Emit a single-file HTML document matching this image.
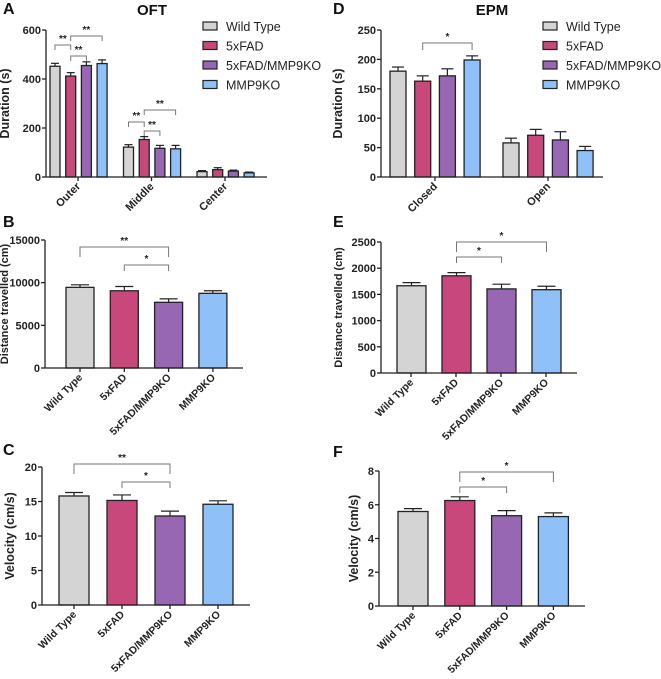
<!DOCTYPE html>
<html><head><meta charset="utf-8"><style>
body{margin:0;background:#fff;width:661px;height:679px;overflow:hidden}
svg{display:block;font-family:"Liberation Sans",Arial,sans-serif}
</style></head><body>
<svg id="fig" width="661" height="679" viewBox="0 0 661 679"></svg>
<script>
const groups=["Wild Type","5xFAD","5xFAD/MMP9KO","MMP9KO"];
const colors=["#d4d4d4","#c9487b","#9767b3","#8fc0f7"];
const catsA=["Outer","Middle","Center"];
const valsA=[[452,412,455,463],[122,153,117,115],[22,30,24,17]];
const errA=[[12,14,15,15],[10,12,12,14],[4,8,4,3]];
const ticksA=[0,200,400,600];
const catsD=["Closed","Open"];
const valsD=[[180,163,172,199],[58,71,63,45]];
const errD=[[7,9,12,7],[8,10,14,7]];
const ticksD=[0,50,100,150,200,250];
const valsB=[9450,9050,7700,8750];
const errB=[300,500,400,300];
const ticksB=[0,5000,10000,15000];
const valsC=[15.8,15.15,12.9,14.6];
const errC=[0.5,0.8,0.7,0.5];
const ticksC=[0,5,10,15,20];
const valsE=[1665,1855,1605,1590];
const errE=[60,60,90,65];
const ticksE=[0,500,1000,1500,2000,2500];
const valsF=[5.6,6.25,5.35,5.3];
const errF=[0.17,0.22,0.3,0.22];
const ticksF=[0,2,4,6,8];

const svg=document.getElementById('fig');
const NS="http://www.w3.org/2000/svg";
function el(tag,attrs,parent,text){const e=document.createElementNS(NS,tag);for(const k in attrs)e.setAttribute(k,attrs[k]);if(text!==undefined)e.textContent=text;(parent||svg).appendChild(e);return e;}

function panel(c){
  const g=el('g',{});
  
  
  const ymax=c.ticks[c.ticks.length-1];
  const ys=v=>c.y0-(v/ymax)*(c.y0-c.yTop);
  c.vals.forEach((row,gi)=>{
    row.forEach((v,si)=>{
      const x=c.xs(gi,si);
      const e=c.errs[gi][si];
      const eb=el('line',{x1:x+c.bw/2,x2:x+c.bw/2,y1:ys(v),y2:ys(v+e),stroke:'#222','stroke-width':1.2},g);
      
      
      const cap=el('line',{x1:x+c.bw/2-c.cap,x2:x+c.bw/2+c.cap,y1:ys(v+e),y2:ys(v+e),stroke:'#222','stroke-width':1.2},g);
      
      
      const r=el('rect',{x:x,y:ys(v),width:c.bw,height:c.y0-ys(v),fill:colors[si],stroke:'#222','stroke-width':1.3},g);
      
      
    });
  });
  const ya=el('line',{x1:c.ax,x2:c.ax,y1:c.yTop,y2:c.y0,stroke:'#222','stroke-width':1.3},g);
  
  
  const xa=el('line',{x1:c.ax,x2:c.axEnd,y1:c.y0,y2:c.y0,stroke:'#222','stroke-width':1.3},g);
  
  
  c.ticks.forEach(t=>{
    el('line',{x1:c.ax-4,x2:c.ax,y1:ys(t),y2:ys(t),stroke:'#222','stroke-width':1.3},g);
    const tl=el('text',{x:c.ax-5,y:ys(t)+4,'text-anchor':'end','font-size':11,'font-weight':'bold',fill:'#222'},g,t);
    
    
  });
  c.cats.forEach((cat,gi)=>{
    const tx=c.catX(gi);
    el('line',{x1:tx,x2:tx,y1:c.y0,y2:c.y0+4,stroke:'#222','stroke-width':1.3},g);
    const tl=el('text',{x:tx+3,y:c.y0+10,'text-anchor':'end','font-size':c.catFs,'font-weight':'bold',fill:'#222',transform:`rotate(-45 ${tx+3} ${c.y0+10})`},g,cat);
    
    
  });
  const yt=el('text',{x:c.ytX,y:(c.yTop+c.y0)/2,'text-anchor':'middle','font-size':c.ytFs,'font-weight':'bold',fill:'#222',transform:`rotate(-90 ${c.ytX} ${(c.yTop+c.y0)/2})`},g,c.ytitle);
  
  
  const pl=el('text',{x:c.letterX,y:c.letterY,'font-size':16,'font-weight':'bold',fill:'#111'},g,c.letter);
  
  
  if(c.title){
    const t=el('text',{x:c.titleX,y:15,'text-anchor':'middle','font-size':15,'font-weight':'bold',fill:'#111'},g,c.title);
    
    
  }
  (c.br||[]).forEach(b=>{
    const x1=c.xs(b[0],b[1])+c.bw/2, x2=c.xs(b[0],b[2])+c.bw/2;
    const p=el('path',{d:`M${x1} ${b[3]+b[5]}V${b[3]}H${x2}V${b[3]+b[5]}`,fill:'none',stroke:'#777','stroke-width':1},g);
    
    
    const s=el('text',{x:(x1+x2)/2,y:b[3]-3,'text-anchor':'middle','font-size':10,'font-weight':'bold',fill:'#222'},g,b[4]);
    
    
  });
  if(c.legX!==undefined){
    groups.forEach((n,i)=>{
      const y=26+i*19.5;
      const r=el('rect',{x:c.legX,y:y-4,width:14,height:8,fill:colors[i],stroke:'#222','stroke-width':1.2},g);
      
      
      const t=el('text',{x:c.legX+23,y:y+5,'font-size':12.5,fill:'#222'},g,n);
      
      
    });
  }
}

panel({name:'panel-a-oft',letter:'A',letterX:3,letterY:14,title:'OFT',titleX:152,ax:46,axEnd:267,y0:177,yTop:30,ticks:ticksA,
  vals:valsA,errs:errA,cats:catsA,bw:10,cap:4,xs:(g,s)=>50+g*73.5+s*15.7,catX:g=>50+g*73.5+28,catFs:11,
  ytitle:'Duration (s)',ytX:9,ytFs:12.5,legX:203,
  br:[[0,0,1,45,'**',5],[0,1,2,56,'**',5],[0,1,3,36,'**',5],[1,0,1,122,'**',5],[1,1,2,131,'**',5],[1,1,3,110,'**',5]]});
panel({name:'panel-d-epm',letter:'D',letterX:333,letterY:14,title:'EPM',titleX:492,ax:381,axEnd:603,y0:177,yTop:30,ticks:ticksD,
  vals:valsD,errs:errD,cats:catsD,bw:16,cap:6,xs:(g,s)=>390+g*113+s*24.7,catX:g=>390+g*113+45,catFs:11,
  ytitle:'Duration (s)',ytX:342,ytFs:12.5,legX:543,
  br:[[0,1,3,43,'*',7]]});
panel({name:'panel-b-distance',letter:'B',letterX:3,letterY:227,ax:45,axEnd:243,y0:368,yTop:240,ticks:ticksB,
  vals:[valsB],errs:[errB],cats:groups,bw:28,cap:9,xs:(g,s)=>66+s*44.3,catX:g=>80+g*44.3,catFs:10.5,
  ytitle:'Distance travelled (cm)',ytX:8,ytFs:11,br:[[0,0,2,247,'**',10],[0,1,2,265,'*',6]]});
panel({name:'panel-e-distance',letter:'E',letterX:333,letterY:227,ax:381,axEnd:577,y0:373,yTop:242,ticks:ticksE,
  vals:[valsE],errs:[errE],cats:groups,bw:29,cap:9,xs:(g,s)=>397+s*45,catX:g=>411+g*45,catFs:10.5,
  ytitle:'Distance travelled (cm)',ytX:342,ytFs:11,br:[[0,1,2,257,'*',6],[0,1,3,242,'*',10]]});
panel({name:'panel-c-velocity',letter:'C',letterX:3,letterY:455,ax:42,axEnd:250,y0:605,yTop:467,ticks:ticksC,
  vals:[valsC],errs:[errC],cats:groups,bw:30,cap:9,xs:(g,s)=>59+s*48,catX:g=>74+g*48,catFs:10.5,
  ytitle:'Velocity (cm/s)',ytX:14,ytFs:12.5,br:[[0,0,2,464,'**',10],[0,1,2,482,'*',6]]});
panel({name:'panel-f-velocity',letter:'F',letterX:333,letterY:457,ax:379,axEnd:585,y0:606,yTop:471,ticks:ticksF,
  vals:[valsF],errs:[errF],cats:groups,bw:30,cap:9,xs:(g,s)=>398+s*46.8,catX:g=>413+g*46.8,catFs:10.5,
  ytitle:'Velocity (cm/s)',ytX:358,ytFs:12.5,br:[[0,1,2,487,'*',6],[0,1,3,472,'*',10]]});
</script>
</body></html>
